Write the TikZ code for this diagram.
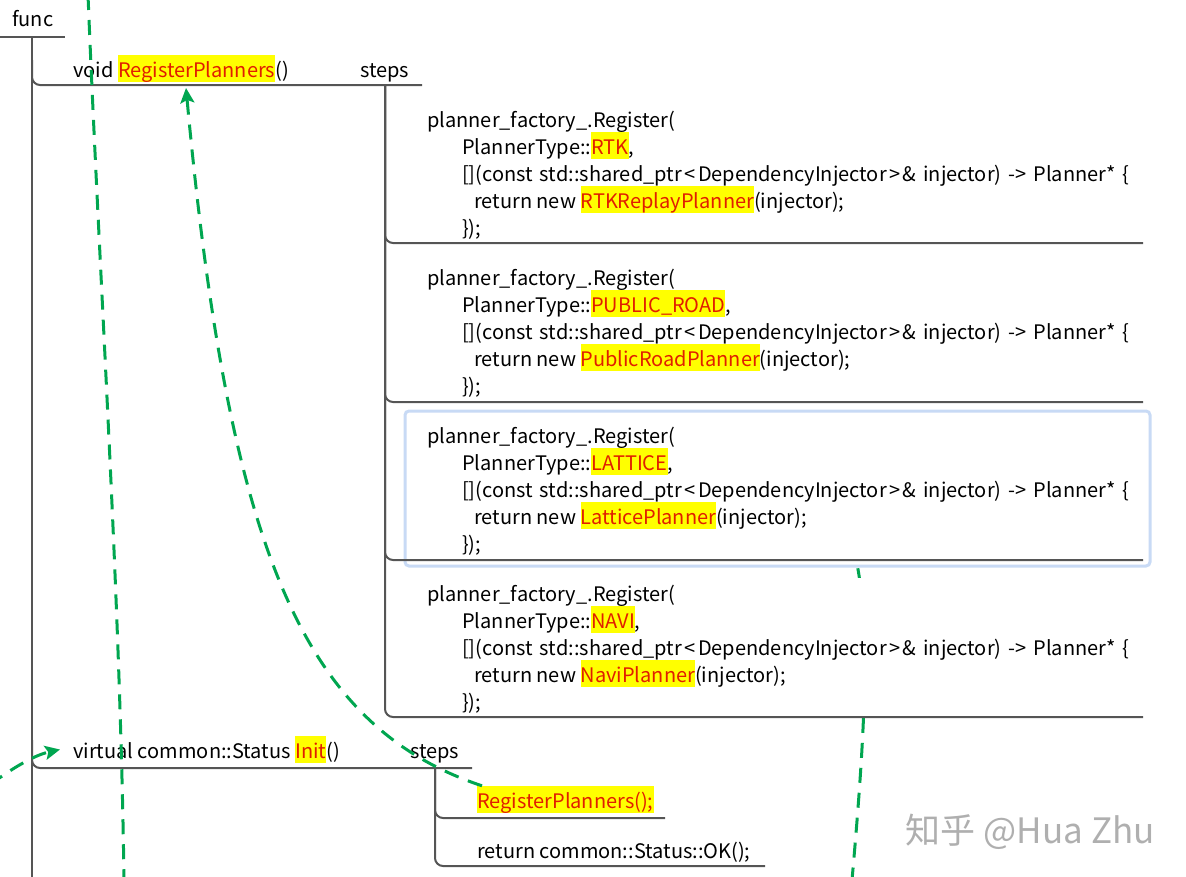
\documentclass[tikz,border=0pt]{standalone}
\usepackage{fontspec}
\setmainfont{Noto Sans CJK SC}
\usepackage{tikz}
\usetikzlibrary{arrows.meta,positioning,calc}

\definecolor{treegray}{RGB}{85,85,85}
\definecolor{flowgreen}{RGB}{0,166,80}
\definecolor{hlyellow}{RGB}{255,255,0}
\definecolor{hlred}{RGB}{225,30,0}
\definecolor{pickblue}{RGB}{200,218,245}
\definecolor{wmgray}{RGB}{175,175,175}

\newcommand{\lnstrut}{\rule[-5pt]{0pt}{27pt}}
\newcommand{\hl}[1]{{\setlength{\fboxsep}{0pt}\colorbox{hlyellow}{\lnstrut\textcolor{hlred}{#1}}}}
\newcommand{\ind}{\lnstrut\hspace*{35pt}}
\newcommand{\indd}{\lnstrut\hspace*{47pt}}
% the lambda line, with the wider spacing of the original
\newcommand{\lambdaline}{[](const\hspace{7pt}std::shared\_ptr\kern2.5pt<\kern2.5pt DependencyInjector\kern2.5pt>\kern2.5pt\&\hspace{7pt}injector)\hspace{7pt}->\hspace{7pt}Planner*\hspace{7pt}\{}

\tikzset{
  topic/.style={inner sep=0pt, anchor=base west, font=\fontsize{20}{27}\selectfont},
  codebox/.style={topic, anchor=north west, align=left},
  tree/.style={draw=treegray, line width=2pt, rounded corners=8pt},
  flow/.style={draw=flowgreen, line width=3pt, dash pattern=on 15pt off 10pt},
  wmark/.style={inner sep=0pt, anchor=base east, text=wmgray, font=\fontsize{35}{40}\selectfont},
}

\begin{document}
\begin{tikzpicture}[%
x=1pt, y=-1pt,
>={Stealth[length=15pt,width=14pt,inset=3pt]}
]
\useasboundingbox (0,0) rectangle (1186,876);
\clip (0,0) rectangle (1186,876);

\coordinate (regTip) at (186,88);
\coordinate (topIn) at (88,-5);
\coordinate (topOut) at (124,880);
\coordinate (leftIn) at (-30,800);
\coordinate (rightIn) at (845,520);
\coordinate (rightOut) at (852,880);

% dashed line passing behind the last two steps
\draw[flow] (rightIn) .. controls (872,590) and (868,700) .. (rightOut);
\fill[white] (390,578) rectangle (1143,714);
\draw[pickblue, line width=3pt, fill=white, rounded corners=4pt] (405,411) rectangle (1150,566);

% tree
\draw[tree] (0,37) -- (65,37);
\draw[tree] (32,37) -- (32,880);
\draw[tree] (32,60) |- (422,85);
\draw[tree] (32,740) |- (472,768);
\foreach \y in {243,402,560,717}
  \draw[tree] (385,85) |- (1143,\y);
\foreach \y/\e in {818/665,866/765}
  \draw[tree] (435,768) |- (\e,\y);

\node[topic] (func) at (12,26) {func};
\node[topic] (regHead) at (73,77) {void \hl{RegisterPlanners}()};
\node[topic] (regSteps) at (360,77) {steps};

\node[codebox] (rtk) at (427,105) {\lnstrut planner\_factory\_.Register(\\
\ind PlannerType::\hl{RTK},\\
\ind \lambdaline\\
\indd return new \hl{RTKReplayPlanner}(injector);\\
\ind \});};
\node[codebox] (pubroad) at (427,263) {\lnstrut planner\_factory\_.Register(\\
\ind PlannerType::\hl{PUBLIC\_ROAD},\\
\ind \lambdaline\\
\indd return new \hl{PublicRoadPlanner}(injector);\\
\ind \});};
\node[codebox] (lattice) at (427,421) {\lnstrut planner\_factory\_.Register(\\
\ind PlannerType::\hl{LATTICE},\\
\ind \lambdaline\\
\indd return new \hl{LatticePlanner}(injector);\\
\ind \});};
\node[codebox] (navi) at (427,579) {\lnstrut planner\_factory\_.Register(\\
\ind PlannerType::\hl{NAVI},\\
\ind \lambdaline\\
\indd return new \hl{NaviPlanner}(injector);\\
\ind \});};

\node[topic] (initHead) at (73,758) {virtual common::Status \hl{Init}()};
\node[topic] (initSteps) at (410,758) {steps};
\node[topic] (callReg) at (477,808) {\hl{RegisterPlanners();}};
\node[topic] (retOk) at (477,858) {return common::Status::OK();};

\node[wmark] (wm) at (1155,843) {知乎 @Hua Zhu};

% call flow
\draw[flow] (topIn) .. controls (100,290) and (120,590) .. (topOut);
\draw[flow,->] ([xshift=5pt]callReg.north west) .. controls (303,726) and (229,552) .. (regTip);
\draw[flow,->] (leftIn) .. controls (10,768) and (35,755) .. ([xshift=-13pt]initHead.west);
\end{tikzpicture}
\end{document}
